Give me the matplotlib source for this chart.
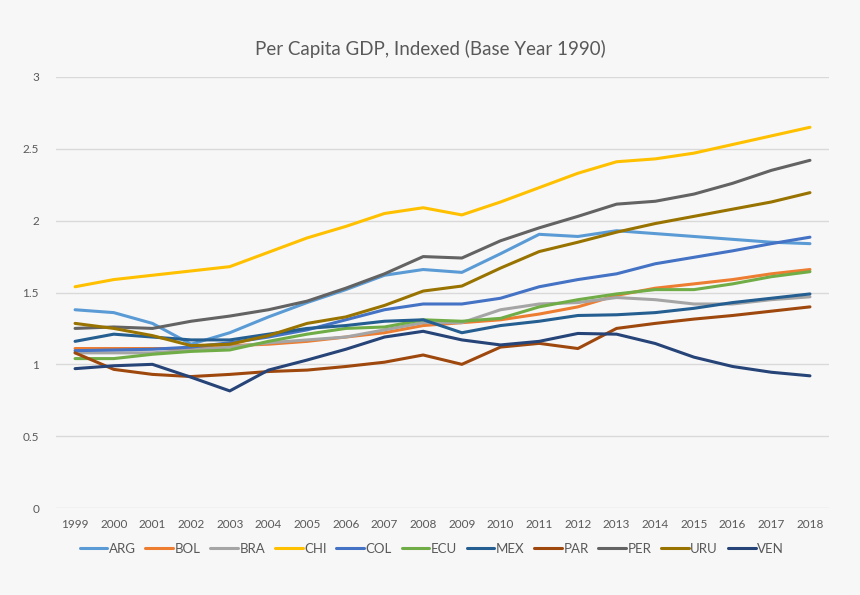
import matplotlib
matplotlib.use("Agg")
import matplotlib.pyplot as plt

plt.rcParams["font.family"] = ["Lato", "DejaVu Sans"]

years = list(range(1999, 2019))

arg = [1.38, 1.36, 1.285, 1.14, 1.22, 1.33, 1.43, 1.52, 1.62, 1.66, 1.64, 1.77, 1.905, 1.89, 1.93, 1.91, 1.89, 1.87, 1.85, 1.84]
bol = [1.11, 1.11, 1.11, 1.11, 1.13, 1.14, 1.16, 1.19, 1.22, 1.27, 1.29, 1.31, 1.35, 1.40, 1.48, 1.53, 1.56, 1.59, 1.63, 1.66]
bra = [1.08, 1.08, 1.08, 1.10, 1.12, 1.15, 1.17, 1.19, 1.24, 1.29, 1.29, 1.38, 1.42, 1.43, 1.465, 1.45, 1.42, 1.42, 1.45, 1.47]
chi = [1.54, 1.59, 1.62, 1.65, 1.68, 1.78, 1.88, 1.96, 2.05, 2.09, 2.04, 2.13, 2.23, 2.33, 2.41, 2.43, 2.47, 2.53, 2.59, 2.65]
col = [1.095, 1.10, 1.105, 1.12, 1.15, 1.19, 1.24, 1.31, 1.38, 1.42, 1.42, 1.46, 1.54, 1.59, 1.63, 1.70, 1.745, 1.79, 1.84, 1.885]
ecu = [1.04, 1.04, 1.07, 1.09, 1.10, 1.16, 1.21, 1.25, 1.26, 1.31, 1.30, 1.32, 1.40, 1.45, 1.49, 1.52, 1.52, 1.56, 1.61, 1.645]
mex = [1.16, 1.21, 1.19, 1.17, 1.17, 1.21, 1.25, 1.27, 1.30, 1.31, 1.22, 1.27, 1.30, 1.34, 1.345, 1.36, 1.39, 1.43, 1.46, 1.49]
par = [1.08, 0.965, 0.93, 0.915, 0.93, 0.95, 0.96, 0.985, 1.015, 1.065, 1.00, 1.12, 1.146, 1.11, 1.25, 1.285, 1.315, 1.34, 1.37, 1.40]
per = [1.25, 1.26, 1.25, 1.30, 1.336, 1.38, 1.44, 1.53, 1.63, 1.75, 1.74, 1.86, 1.95, 2.03, 2.115, 2.135, 2.185, 2.26, 2.35, 2.42]
uru = [1.285, 1.25, 1.20, 1.13, 1.14, 1.20, 1.285, 1.33, 1.41, 1.51, 1.545, 1.67, 1.785, 1.85, 1.92, 1.98, 2.03, 2.08, 2.13, 2.195]
ven = [0.97, 0.99, 1.00, 0.91, 0.815, 0.96, 1.03, 1.105, 1.19, 1.23, 1.17, 1.135, 1.16, 1.215, 1.21, 1.145, 1.05, 0.985, 0.945, 0.92]

series = [
    ("ARG", arg, "#5B9BD5"),
    ("BOL", bol, "#ED7D31"),
    ("BRA", bra, "#A5A5A5"),
    ("CHI", chi, "#FFC000"),
    ("COL", col, "#4472C4"),
    ("ECU", ecu, "#70AD47"),
    ("MEX", mex, "#255E91"),
    ("PAR", par, "#9E480E"),
    ("PER", per, "#636363"),
    ("URU", uru, "#997300"),
    ("VEN", ven, "#264478"),
]

bg = "#F7F7F7"
txt = "#595959"

fig = plt.figure(figsize=(8.6, 5.95), dpi=100, facecolor=bg)
ax = fig.add_axes([0.0648, 0.1462, 0.8995, 0.7244], facecolor=bg)

for name, vals, c in series:
    ax.plot(years, vals, color=c, lw=2.2, label=name, solid_capstyle="round")

ax.set_xlim(1998.5, 2018.5)
ax.set_ylim(0, 3)
ax.set_yticks([0, 0.5, 1, 1.5, 2, 2.5, 3])
ax.set_yticklabels(["0", "0.5", "1", "1.5", "2", "2.5", "3"])
ax.set_xticks(years)
ax.set_xticklabels([str(y) for y in years])
ax.grid(axis="y", color="#D9D9D9", lw=1)
ax.set_axisbelow(True)
for s in ax.spines.values():
    s.set_visible(False)
ax.tick_params(length=0, labelsize=8.5, colors=txt, pad=8)
ax.tick_params(axis="y", pad=12)

fig.text(0.5, 0.918, "Per Capita GDP, Indexed (Base Year 1990)", ha="center", va="center",
         fontsize=13.5, color=txt)

ax.legend(loc="center", bbox_to_anchor=(0.486, -0.095), ncol=11, frameon=False,
          fontsize=9.5, labelcolor=txt, handlelength=2.1, handletextpad=0.1,
          columnspacing=0.75)

fig.savefig("out.png", dpi=100, facecolor=bg)
